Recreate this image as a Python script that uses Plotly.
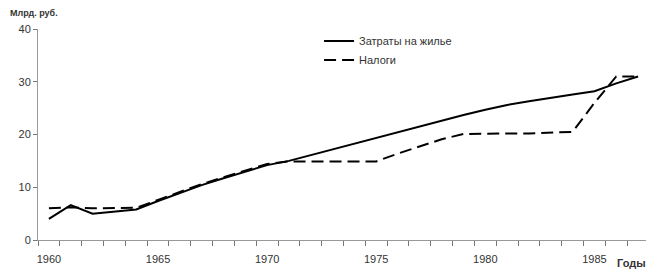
import plotly.graph_objects as go

years = list(range(1960, 1988))
housing = [4.0, 6.6, 5.0, 5.4, 5.8, 7.4, 8.9, 10.4, 11.7, 13.0, 14.2, 15.0, 16.1, 17.2,
           18.3, 19.4, 20.5, 21.6, 22.6, 23.7, 24.7, 25.6, 26.3, 27.0, 27.6, 28.2, 29.7, 31.0]
taxes = [6.0, 6.2, 6.0, 6.1, 6.1, 7.6, 9.1, 10.6, 11.9, 13.2, 14.4, 14.9, 14.9, 14.9,
         14.9, 14.9, 16.4, 17.8, 19.1, 20.1, 20.2, 20.2, 20.2, 20.3, 20.5, 26.0, 31.0, 31.0]
x_labels = [1960, 1965, 1970, 1975, 1980, 1985]
y_ticks = [0, 10, 20, 30, 40]

FONT = "Liberation Sans, Arial, sans-serif"

fig = go.Figure()
fig.add_trace(go.Scatter(x=years, y=housing, mode="lines", name="Затраты на жилье",
                         line=dict(color="black", width=2)))
fig.add_trace(go.Scatter(x=years, y=taxes, mode="lines", name="Налоги",
                         line=dict(color="black", width=2, dash="12px,6px")))

# page has an 8px body margin, so the figure is sized to the remaining area
fig.update_layout(
    width=646, height=261,
    margin=dict(l=30, r=5, t=21, b=29),
    paper_bgcolor="white", plot_bgcolor="white",
    font=dict(family=FONT, size=11, color="#333"),
    showlegend=True,
    legend=dict(x=0.46, y=1.012, xanchor="left", yanchor="top",
                font=dict(size=11, color="#333"), bgcolor="rgba(0,0,0,0)",
                tracegroupgap=0),
    xaxis=dict(range=[1959.5, 1987.5], tickvals=x_labels, ticks="", showgrid=False,
               zeroline=False, showline=True, linecolor="#999", linewidth=1,
               ticklabelstandoff=9,
               minor=dict(tick0=1959.5, dtick=1, ticks="outside", ticklen=5,
                          tickcolor="#777", showgrid=False),
               tickfont=dict(size=11, color="#333")),
    yaxis=dict(range=[0, 40], tickvals=y_ticks, ticks="outside", ticklen=4,
               tickcolor="#777", showgrid=False, zeroline=False, showline=True,
               linecolor="#999", linewidth=1, tickfont=dict(size=11, color="#333")),
)

fig.add_annotation(text="<b>Млрд. руб.</b>", xref="paper", yref="paper",
                   x=-0.049, y=1.075, xanchor="left", yanchor="middle", showarrow=False,
                   font=dict(size=9, color="#333", family=FONT))
fig.add_annotation(text="<b>Годы</b>", xref="paper", yref="paper",
                   x=0.999, y=-0.109, xanchor="right", yanchor="middle", showarrow=False,
                   font=dict(size=11, color="#333", family=FONT))

fig.write_html("out.html")
